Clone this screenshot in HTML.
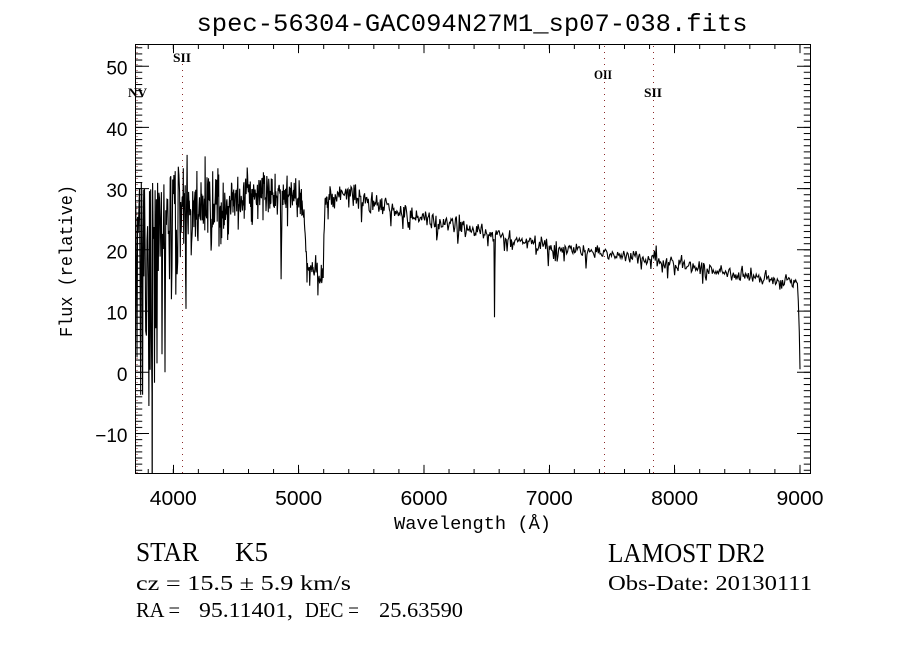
<!DOCTYPE html>
<html><head><meta charset="utf-8"><style>html,body{margin:0;padding:0;background:#fff;}svg{display:block}</style></head>
<body>
<svg width="900" height="650" viewBox="0 0 900 650" xmlns="http://www.w3.org/2000/svg">
<rect width="900" height="650" fill="#fff"/>
<defs>
<clipPath id="c"><rect x="135.5" y="44.5" width="675" height="429"/></clipPath>
<pattern id="ym" patternUnits="userSpaceOnUse" x="0" y="371.8" width="20" height="6.123"><rect x="0" y="0" width="20" height="1" fill="#000"/></pattern>
<pattern id="xm" patternUnits="userSpaceOnUse" x="172.8" y="0" width="25.066" height="20"><rect x="0" y="0" width="1" height="20" fill="#000"/></pattern>
</defs>

<!-- title -->
<text x="472" y="31" font-family="Liberation Mono, monospace" font-size="25" text-anchor="middle" textLength="551" lengthAdjust="spacingAndGlyphs">spec-56304-GAC094N27M1_sp07-038.fits</text>

<!-- dotted line markers -->
<g stroke="#8b2a2a" stroke-width="1" stroke-dasharray="1,5">
<line x1="137" y1="46" x2="137" y2="473"/>
<line x1="182.5" y1="64" x2="182.5" y2="473"/>
<line x1="604.5" y1="46" x2="604.5" y2="473"/>
<line x1="653.5" y1="46" x2="653.5" y2="473"/>
</g>

<!-- spectrum -->
<path id="spec" clip-path="url(#c)" fill="none" stroke="#000" stroke-width="1.1" stroke-linejoin="miter"
d="M136,300 L137,190 L138,400 L139,200 L140,420 L141,230 L142,380 L143,185 L144,410 L145,260 L146,330 L147,190 L148,380 L149,220 L150,300 L151,240 L152,180 L152.5,475 L153,250 L155,190 L156,350 L158,200 L159,300 L161,175 L162,260 L164,190 L165,370 L166,200 L168,230 L169,180 L171,250 L172,165 L174,210 L176,155 L177,240 L179,170 L181,200 L183,153 L184,230 L185,303 L186,180 L188,200 L190,170 L192,278 L194,185 L197,210 L200,178 L203,230 L206,185 L209,215 L212,175 L215,225 L218,180 L221,205 L224,170 L227,200 L230,180 L233,200 L236,172 L239,190 L242,168 L245,195 L248,175 L251,185 L254,168 L257,195 L260,180 L263,190 L266,172 L269,200 L272,180 L275,195 L278,178 L280,185 L281.5,283 L283,195 L286,180 L289,210 L292,185 L295,200 L298,180 L301,195 L303,230 L305,255 L307,262 L310,270 L313,262 L316,275 L318,268 L320,290 L322,275 L324,260 L325,215 L327,200 L330,195 L335,205 L340,192 L345,200 L350,190 L355,198 L360,188 L365,200 L370,193 L375,205 L380,196 L385,210 L390,200 L395,208 L400,204 L405,212 L410,206 L415,214 L420,212 L425,218 L430,215 L435,222 L440,218 L445,220 L450,222 L455,226 L460,224 L465,228 L470,226 L475,230 L480,229 L485,233 L490,232 L493,236 L494,312 L495,236 L500,238 L510,236 L520,240 L530,238 L540,242 L550,244 L560,246 L570,249 L580,248 L590,251 L600,252 L610,255 L620,256 L630,258 L640,258 L650,261 L660,263 L670,262 L680,265 L690,268 L700,268 L710,272 L720,273 L730,275 L740,278 L750,280 L760,282 L770,281 L780,284 L790,285 L797,287 L799,300 L800,370"/>

<!-- frame -->
<rect x="135.5" y="44.5" width="675" height="429" fill="none" stroke="#000" stroke-width="1"/>

<!-- minor ticks -->
<rect x="135.5" y="45" width="6.75" height="428" fill="url(#ym)"/>
<rect x="803.75" y="45" width="6.75" height="428" fill="url(#ym)"/>
<rect x="136" y="469" width="674" height="4.3" fill="url(#xm)"/>
<rect x="136" y="44.7" width="674" height="4.3" fill="url(#xm)"/>

<!-- major ticks -->
<g stroke="#000" stroke-width="1">
<path d="M135.5,433.5h13.5M135.5,372.3h13.5M135.5,311.1h13.5M135.5,249.8h13.5M135.5,188.6h13.5M135.5,127.4h13.5M135.5,66.2h13.5"/>
<path d="M810.5,433.5h-13.5M810.5,372.3h-13.5M810.5,311.1h-13.5M810.5,249.8h-13.5M810.5,188.6h-13.5M810.5,127.4h-13.5M810.5,66.2h-13.5"/>
<path d="M173.5,473.5v-8.6M298.5,473.5v-8.6M424,473.5v-8.6M549.5,473.5v-8.6M674.5,473.5v-8.6M800,473.5v-8.6"/>
<path d="M173.5,44.5v8.6M298.5,44.5v8.6M424,44.5v8.6M549.5,44.5v8.6M674.5,44.5v8.6M800,44.5v8.6"/>
</g>

<!-- y tick labels -->
<g font-family="Liberation Sans, sans-serif" font-size="19" text-anchor="end" fill="#000">
<text x="127.5" y="442">−10</text>
<text x="127.5" y="380.8">0</text>
<text x="127.5" y="319.6">10</text>
<text x="127.5" y="258.3">20</text>
<text x="127.5" y="197.1">30</text>
<text x="127.5" y="135.9">40</text>
<text x="127.5" y="74.7">50</text>
</g>

<!-- x tick labels -->
<g font-family="Liberation Sans, sans-serif" font-size="20" text-anchor="middle" fill="#000">
<text x="173.3" y="505" textLength="47" lengthAdjust="spacingAndGlyphs">4000</text>
<text x="298.6" y="505" textLength="47" lengthAdjust="spacingAndGlyphs">5000</text>
<text x="424" y="505" textLength="47" lengthAdjust="spacingAndGlyphs">6000</text>
<text x="549.3" y="505" textLength="47" lengthAdjust="spacingAndGlyphs">7000</text>
<text x="674.6" y="505" textLength="47" lengthAdjust="spacingAndGlyphs">8000</text>
<text x="800" y="505" textLength="47" lengthAdjust="spacingAndGlyphs">9000</text>
</g>

<!-- axis titles -->
<text x="472.5" y="529" font-family="Liberation Mono, monospace" font-size="18" text-anchor="middle" textLength="157" lengthAdjust="spacingAndGlyphs">Wavelength (Å)</text>
<text transform="translate(72,261) rotate(-90)" font-family="Liberation Mono, monospace" font-size="18" text-anchor="middle" textLength="152" lengthAdjust="spacingAndGlyphs">Flux (relative)</text>

<!-- line labels -->
<g font-family="Liberation Serif, serif" font-size="13" font-weight="bold" fill="#000">
<text x="128" y="97" textLength="19" lengthAdjust="spacingAndGlyphs">NV</text>
<text x="173" y="62" textLength="18" lengthAdjust="spacingAndGlyphs">SII</text>
<text x="594" y="79" textLength="18" lengthAdjust="spacingAndGlyphs">OII</text>
<text x="644" y="97" textLength="18" lengthAdjust="spacingAndGlyphs">SII</text>
</g>

<!-- bottom info -->
<g font-family="Liberation Serif, serif" fill="#000">
<text x="136" y="561" font-size="27" textLength="63" lengthAdjust="spacingAndGlyphs">STAR</text>
<text x="235" y="561" font-size="27" textLength="33" lengthAdjust="spacingAndGlyphs">K5</text>
<text x="136" y="590" font-size="21" textLength="215" lengthAdjust="spacingAndGlyphs">cz = 15.5 ± 5.9 km/s</text>
<text x="136" y="617" font-size="21" textLength="44" lengthAdjust="spacingAndGlyphs">RA =</text>
<text x="199" y="617" font-size="21" textLength="94" lengthAdjust="spacingAndGlyphs">95.11401,</text>
<text x="305" y="617" font-size="21" textLength="54" lengthAdjust="spacingAndGlyphs">DEC =</text>
<text x="379" y="617" font-size="21" textLength="84" lengthAdjust="spacingAndGlyphs">25.63590</text>
<text x="608" y="562" font-size="27" textLength="157" lengthAdjust="spacingAndGlyphs">LAMOST DR2</text>
<text x="608" y="590" font-size="21" textLength="204" lengthAdjust="spacingAndGlyphs">Obs-Date: 20130111</text>
</g>
</svg>
<script>
(function(){
var s=56304;
function R(){s|=0;s=s+0x6D2B79F5|0;var t=Math.imul(s^s>>>15,1|s);t=t+Math.imul(t^t>>>7,61|t)^t;return((t^t>>>14)>>>0)/4294967296;}
function L(p,w){if(w<=p[0][0])return p[0][1];for(var i=1;i<p.length;i++){if(w<=p[i][0]){var a=p[i-1],b=p[i];return a[1]+(b[1]-a[1])*(w-a[0])/(b[0]-a[0]);}}return p[p.length-1][1];}
function X(w){return 173.3+(w-4000)*0.12533;}
function Y(f){return 372.3-f*6.123;}
var hi=[[3700,31],[3800,31],[3950,31],[4000,33],[4050,34]];
var lo=[[3700,-12],[3800,-6],[3900,2],[4000,10],[4050,16]];
var mean=[[4050,25],[4100,26.5],[4450,26.5],[4550,29],[4700,30],[4850,29],[5000,28.5],[5040,27],[5065,17.5],[5150,16.2],[5170,15],[5195,16],[5210,28],[5350,29],[5500,28.3],[6000,25.2],[6500,22.8],[6600,22.2],[7000,20.6],[7500,19.4],[7850,18.3],[8350,16.4],[8950,14.6],[8980,14.4],[8992,10],[9000,1]];
var amp=[[4050,5.5],[4450,4],[4550,2.8],[4850,2.6],[5040,2],[5065,1.3],[5200,1.3],[5250,1.7],[5500,1.5],[6000,1.2],[6500,1.1],[6600,0.95],[8980,0.95],[8992,0.2],[9000,0.1]];
var dips=[[4101,14,3],[4150,9,2.5],[4300,7,3],[4861,14,4],[6563,12.5,3]];
var ws=[];for(var w=3700;w<=8990;w+=(w<4050?5:(w<5250?3:(w<6600?6:7))))ws.push(w);
ws.push(3832,3934,4110,6560,6563,6566,8995,9000);ws.sort(function(a,b){return a-b;});
var d=[];
for(var i=0;i<ws.length;i++){
 w=ws[i];var f;
 if(w<4050){f=L(hi,w)-Math.pow(R(),1.6)*(L(hi,w)-L(lo,w));}
 else{var a=L(amp,w);f=L(mean,w)+(R()+R()+R()-1.5)*1.15*a;var r=R();if(w<8985){if(r<0.05)f-=a*(1+1.5*R());else if(r<0.08)f+=a*(0.5+R());}}
 for(var k=0;k<dips.length;k++){var z=(w-dips[k][0])/dips[k][2];f-=dips[k][1]*Math.exp(-z*z);}
 if(w===3832)f=-25;
 if(w===3934)f=0;
 if(w===4110)f=35.5;
 if(w>=9000)f=0.5;
 d.push((d.length?'L':'M')+X(w).toFixed(1)+','+Y(f).toFixed(1));
}
document.getElementById('spec').setAttribute('d',d.join(''));
})();
</script>
</body></html>
